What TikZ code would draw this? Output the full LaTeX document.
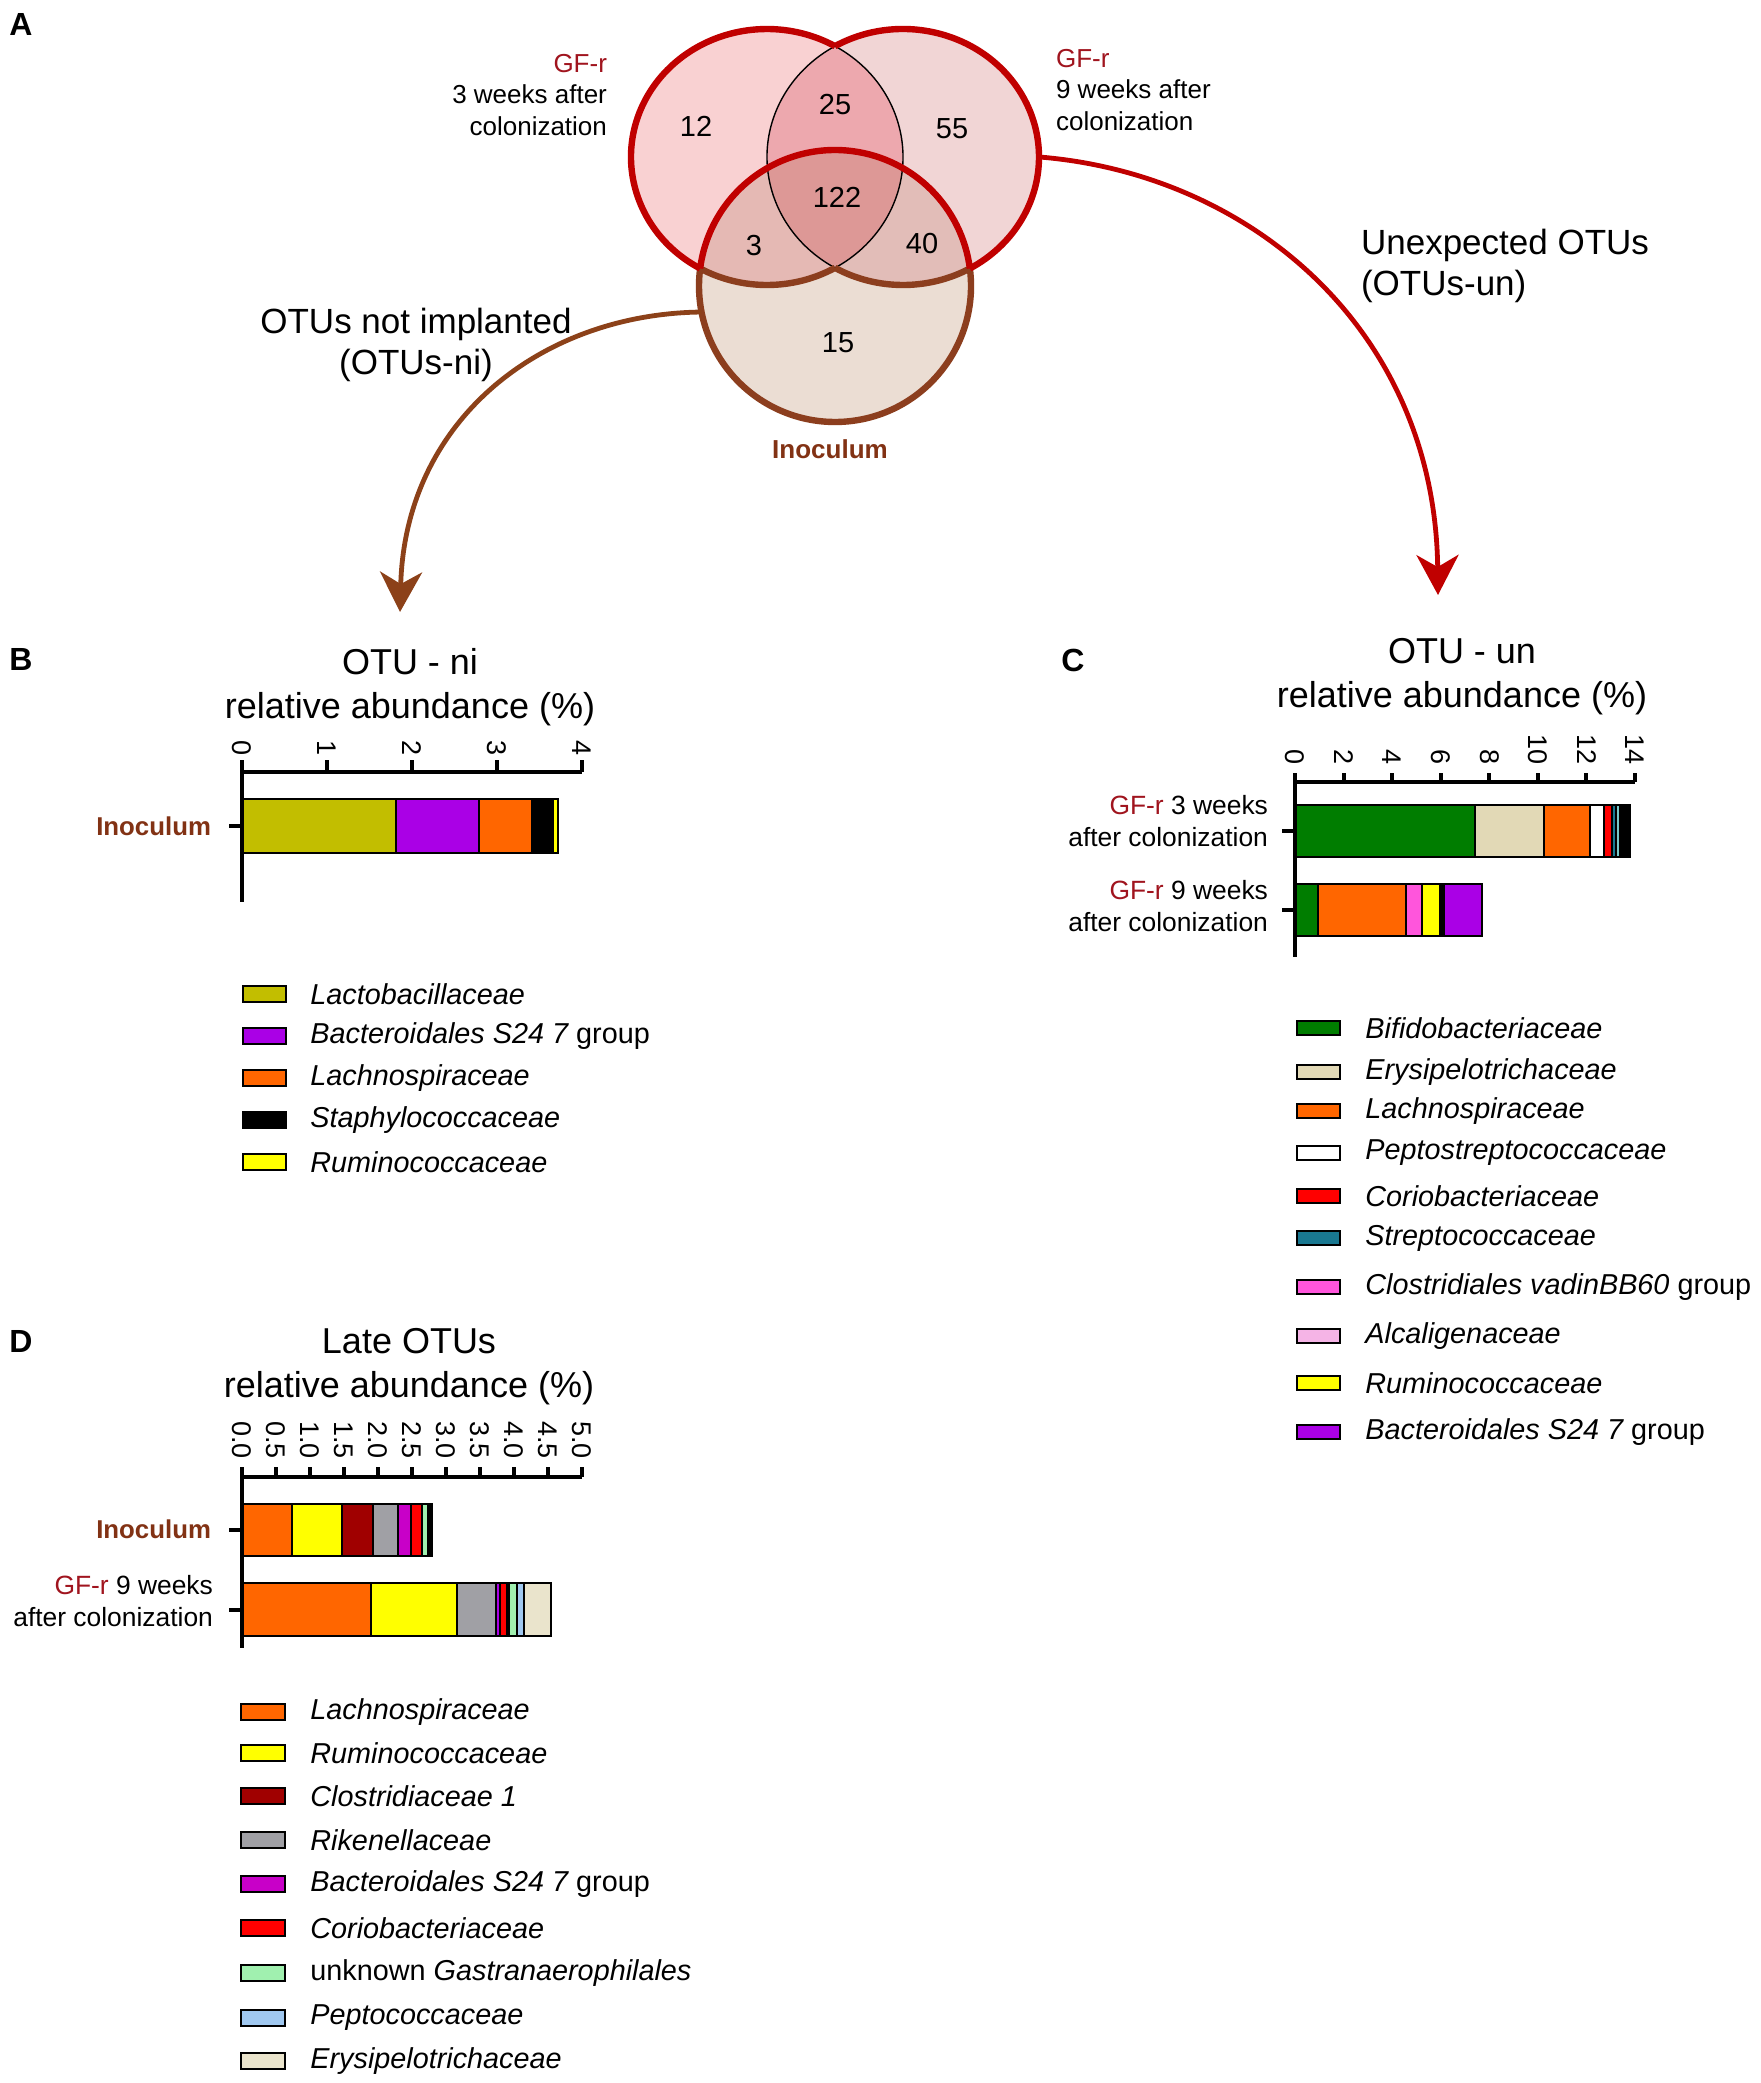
\documentclass[tikz,border=0pt]{standalone}
\usepackage{fontspec}
\setmainfont{Liberation Sans}
\usetikzlibrary{arrows.meta}

\definecolor{gfred}{RGB}{160,20,30}
\definecolor{inobrown}{RGB}{130,50,20}
\definecolor{vennred}{RGB}{192,0,0}
\definecolor{vennbrown}{RGB}{140,62,30}
\definecolor{arrowbrown}{RGB}{140,65,25}
\definecolor{vennA}{RGB}{249,209,210}
\definecolor{vennB}{RGB}{241,213,213}
\definecolor{vennC}{RGB}{235,221,211}
\definecolor{lensAB}{RGB}{237,168,174}
\definecolor{lensAC}{RGB}{229,185,180}
\definecolor{lensBC}{RGB}{226,189,184}
\definecolor{core}{RGB}{221,152,150}
\definecolor{lacto}{RGB}{194,190,0}
\definecolor{bactS}{RGB}{170,0,230}
\definecolor{bactD}{RGB}{200,0,200}
\definecolor{lachno}{RGB}{255,102,0}
\definecolor{rumino}{RGB}{255,255,0}
\definecolor{bifido}{RGB}{0,125,0}
\definecolor{erysi}{RGB}{226,217,182}
\definecolor{erysiD}{RGB}{234,228,204}
\definecolor{corio}{RGB}{255,0,0}
\definecolor{strepto}{RGB}{25,120,145}
\definecolor{streptolt}{RGB}{120,200,200}
\definecolor{clovadin}{RGB}{255,85,220}
\definecolor{alcali}{RGB}{245,180,230}
\definecolor{clostr}{RGB}{160,0,0}
\definecolor{riken}{RGB}{160,160,165}
\definecolor{gastra}{RGB}{160,240,175}
\definecolor{peptoco}{RGB}{160,200,240}

\tikzstyle{panel} = [font=\fontsize{16}{19}\selectfont\bfseries]
\tikzstyle{charttitle} = [font=\fontsize{18}{22}\selectfont, align=center]
\tikzstyle{bigtext} = [font=\fontsize{17.5}{20.5}\selectfont]
\tikzstyle{venntext} = [font=\fontsize{13}{15.8}\selectfont]
\tikzstyle{vennnum} = [font=\fontsize{14.5}{17}\selectfont]
\tikzstyle{catlabel} = [font=\fontsize{13.2}{16}\selectfont, anchor=east, align=right]
\tikzstyle{inolabel} = [font=\fontsize{12.9}{16}\selectfont\bfseries, text=inobrown, anchor=east]
\tikzstyle{ticklabel} = [font=\fontsize{13.5}{16}\selectfont, rotate=-90, anchor=east, inner sep=0pt]
\tikzstyle{legendtext} = [font=\fontsize{14.4}{17}\selectfont\itshape, anchor=west, inner sep=0pt]
\tikzstyle{swatch} = [draw=black, line width=0.8pt]
\tikzstyle{barpiece} = [draw=black, line width=1pt]
\tikzstyle{axisline} = [line width=2pt]
\tikzstyle{outerred} = [draw=vennred, line width=3.2pt]
\tikzstyle{outerbrown} = [draw=vennbrown, line width=3.2pt]
\tikzstyle{lensline} = [draw=black, line width=0.7pt]
\tikzstyle{line} = [draw, line width=2.4pt, -{Stealth[length=20pt, width=21pt, inset=6pt]}]

\begin{document}
\begin{tikzpicture}[x=0.5pt, y=-0.5pt]
  \fill[white] (0,0) rectangle (1761,2083);
  \useasboundingbox (0,0) rectangle (1761,2083);

  % venn diagram
  \coordinate (wk3) at (767,157);
  \coordinate (wk9) at (903,157);
  \coordinate (inoc) at (835,286);
  \fill[vennC] (inoc) circle[radius=136];
  \fill[vennA] (wk3) ellipse[x radius=136, y radius=128];
  \fill[vennB] (wk9) ellipse[x radius=136, y radius=128];
  \begin{scope}
    \clip (wk3) ellipse[x radius=136, y radius=128];
    \fill[lensAB] (wk9) ellipse[x radius=136, y radius=128];
  \end{scope}
  \begin{scope}
    \clip (inoc) circle[radius=136];
    \fill[lensAC] (wk3) ellipse[x radius=136, y radius=128];
    \fill[lensBC] (wk9) ellipse[x radius=136, y radius=128];
    \clip (wk3) ellipse[x radius=136, y radius=128];
    \fill[core] (wk9) ellipse[x radius=136, y radius=128];
  \end{scope}
  \draw[lensline] (wk3) ++(-60:136 and 128) arc[start angle=-60, end angle=60, x radius=136, y radius=128];
  \draw[lensline] (wk9) ++(120:136 and 128) arc[start angle=120, end angle=240, x radius=136, y radius=128];
  \draw[outerbrown] (wk3) ++(60:136 and 128) arc[start angle=60, end angle=119.45, x radius=136, y radius=128];
  \draw[outerbrown] (wk9) ++(60.55:136 and 128) arc[start angle=60.55, end angle=120, x radius=136, y radius=128];
  \draw[outerbrown] (inoc) ++(-7.4:136) arc[start angle=-7.4, end angle=187.4, radius=136];
  \draw[outerred] (inoc) ++(187.4:136) arc[start angle=187.4, end angle=352.6, radius=136];
  \draw[outerred] (wk3) ++(119.45:136 and 128) arc[start angle=119.45, end angle=300, x radius=136, y radius=128];
  \draw[outerred] (wk9) ++(-120:136 and 128) arc[start angle=-120, end angle=60.55, x radius=136, y radius=128];
  \node[circle, minimum size=136pt, inner sep=0pt] (gfnine) at (wk9) {};
  \node[circle, minimum size=136pt, inner sep=0pt] (ino) at (inoc) {};

  \node[vennnum] (n12) at (696,126) {12};
  \node[vennnum] (n25) at (835,105) {25};
  \node[vennnum] (n55) at (952,129) {55};
  \node[vennnum] (n122) at (837,197) {122};
  \node[vennnum] (n3) at (754,246) {3};
  \node[vennnum] (n40) at (922,244) {40};
  \node[vennnum] (n15) at (838,343) {15};
  \node[venntext, anchor=east, align=right] (gfthreelab) at (614,95) {\textcolor{gfred}{GF-r}\\3 weeks after\\colonization};
  \node[venntext, anchor=west, align=left] (gfninelab) at (1049,90) {\textcolor{gfred}{GF-r}\\9 weeks after\\colonization};
  \node[venntext, font=\fontsize{13}{16}\selectfont\bfseries, text=inobrown] (inolab) at (830,449) {Inoculum};

  % arrows to the bar charts
  \coordinate (nitip) at (400,612);
  \coordinate (untip) at (1438,595);
  \path[line, draw=arrowbrown] (ino.191) .. controls +(-160,2) and +(5,-192) .. (nitip);
  \path[line, draw=vennred] (gfnine.0) .. controls +(211,17) and +(-3,-265) .. (untip);
  \node[bigtext, align=center] (nilab) at (416,345) {OTUs not implanted\\(OTUs-ni)};
  \node[bigtext, anchor=west, align=left] (unlab) at (1354,266) {Unexpected OTUs\\(OTUs-un)};

  \node[panel] (pa) at (21,24) {A};
  \node[panel] (pb) at (21,659) {B};
  \node[panel] (pc) at (1073,660) {C};
  \node[panel] (pd) at (21,1341) {D};

  % B: OTU-ni
  \node[charttitle] (nititle) at (410,687) {OTU - ni\\relative abundance (\%)};
  \begin{scope}[shift={(242,0)}, xscale=85]
    \foreach \a/\b/\c in {0/1.81/lacto, 1.81/2.79/bactS, 2.79/3.41/lachno, 3.41/3.66/black, 3.66/3.72/rumino}
      \draw[barpiece, fill=\c] (\a,799) rectangle (\b,853);
    \draw[axisline] (0,772) -- (4,772);
    \foreach \t in {0,1,2,3,4} {
      \draw[axisline] (\t,772) -- (\t,760);
      \node[ticklabel] (bt\t) at (\t,756) {\t};
    }
    \draw[axisline] (0,760) -- (0,902);
  \end{scope}
  \draw[axisline] (229,826) -- (242,826);
  \node[inolabel] (bcat) at (218,826) {Inoculum};
  \foreach \y/\c/\txt in {994/lacto/Lactobacillaceae, 1036/bactS/{Bacteroidales S24 7 {\upshape group}}, 1078/lachno/Lachnospiraceae, 1120/black/Staphylococcaceae, 1162/rumino/Ruminococcaceae} {
    \draw[swatch, fill=\c] (243,\y-8) rectangle (286,\y+8);
    \node[legendtext] (bleg\y) at (310,\y) {\txt};
  }

  % C: OTU-un
  \node[charttitle] (untitle) at (1462,677) {OTU - un\\relative abundance (\%)};
  \begin{scope}[shift={(1295,0)}, xscale=24.29]
    \foreach \a/\b/\c in {0/7.41/bifido, 7.41/10.25/erysi, 10.25/12.14/lachno, 12.14/12.72/white, 12.72/13.04/corio, 13.04/13.22/strepto, 13.22/13.36/streptolt, 13.36/13.8/black}
      \draw[barpiece, fill=\c] (\a,805) rectangle (\b,857);
    \foreach \a/\b/\c in {0/0.95/bifido, 0.95/4.58/lachno, 4.58/5.24/clovadin, 5.24/5.95/rumino, 5.95/6.13/black, 6.13/7.69/bactS}
      \draw[barpiece, fill=\c] (\a,884) rectangle (\b,936);
    \draw[axisline] (0,782) -- (14,782);
    \foreach \t in {0,2,4,6,8,10,12,14} {
      \draw[axisline] (\t,782) -- (\t,773);
      \node[ticklabel] (ct\t) at (\t,765) {\t};
    }
    \draw[axisline] (0,773) -- (0,957);
  \end{scope}
  \draw[axisline] (1282,831) -- (1295,831);
  \draw[axisline] (1282,910) -- (1295,910);
  \node[catlabel] (ccat1) at (1275,821) {\textcolor{gfred}{GF-r} 3 weeks\\after colonization};
  \node[catlabel] (ccat2) at (1275,906) {\textcolor{gfred}{GF-r} 9 weeks\\after colonization};
  \foreach \y/\c/\txt in {1028/bifido/Bifidobacteriaceae, 1072/erysi/Erysipelotrichaceae, 1111/lachno/Lachnospiraceae, 1153/white/Peptostreptococcaceae, 1196/corio/Coriobacteriaceae, 1238/strepto/Streptococcaceae, 1287/clovadin/{Clostridiales vadinBB60 {\upshape group}}, 1336/alcali/Alcaligenaceae, 1383/rumino/Ruminococcaceae, 1432/bactS/{Bacteroidales S24 7 {\upshape group}}} {
    \draw[swatch, fill=\c] (1297,\y-7) rectangle (1340,\y+7);
    \node[legendtext] (cleg\y) at (1365,\y) {\txt};
  }

  % D: late OTUs
  \node[charttitle] (latetitle) at (409,1367) {Late OTUs\\relative abundance (\%)};
  \begin{scope}[shift={(242,0)}, xscale=68]
    \foreach \a/\b/\c in {0/0.735/lachno, 0.735/1.47/rumino, 1.47/1.93/clostr, 1.93/2.29/riken, 2.29/2.49/bactD, 2.49/2.64/corio, 2.64/2.73/gastra, 2.73/2.80/black}
      \draw[barpiece, fill=\c] (\a,1504) rectangle (\b,1556);
    \foreach \a/\b/\c in {0/1.90/lachno, 1.90/3.16/rumino, 3.16/3.74/riken, 3.74/3.79/bactS, 3.79/3.90/corio, 3.90/3.92/black, 3.92/4.05/gastra, 4.05/4.15/peptoco, 4.15/4.55/erysiD}
      \draw[barpiece, fill=\c] (\a,1583) rectangle (\b,1636);
    \draw[axisline] (0,1477) -- (5,1477);
    \foreach \t in {0.0,0.5,1.0,1.5,2.0,2.5,3.0,3.5,4.0,4.5,5.0} {
      \draw[axisline] (\t,1477) -- (\t,1467);
      \node[ticklabel] at (\t,1459) {\t};
    }
    \draw[axisline] (0,1467) -- (0,1648);
  \end{scope}
  \draw[axisline] (229,1530) -- (242,1530);
  \draw[axisline] (229,1610) -- (242,1610);
  \node[inolabel] (dcat1) at (218,1529) {Inoculum};
  \node[catlabel] (dcat2) at (220,1601) {\textcolor{gfred}{GF-r} 9 weeks\\after colonization};
  \foreach \y/\c/\txt in {1712/lachno/Lachnospiraceae, 1753/rumino/Ruminococcaceae, 1796/clostr/Clostridiaceae 1, 1840/riken/Rikenellaceae, 1884/bactD/{Bacteroidales S24 7 {\upshape group}}, 1928/corio/Coriobacteriaceae, 1973/gastra/{{\upshape unknown} Gastranaerophilales}, 2018/peptoco/Peptococcaceae, 2061/erysiD/Erysipelotrichaceae} {
    \draw[swatch, fill=\c] (241,\y-8) rectangle (285,\y+8);
    \node[legendtext] (dleg\y) at (310,\y) {\txt};
  }
\end{tikzpicture}
\end{document}
